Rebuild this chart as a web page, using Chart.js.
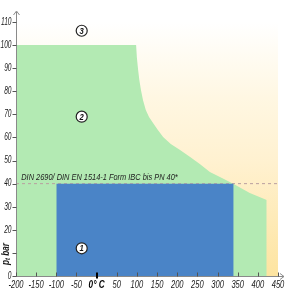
<!DOCTYPE html>
<html><head><meta charset="utf-8">
<script src="https://cdn.jsdelivr.net/npm/chart.js@4/dist/chart.umd.min.js"></script>
<style>html,body{margin:0;padding:0;background:#fff}#wrap{width:293px;height:300px}</style>
</head><body><div id="wrap"><canvas id="c" width="293" height="300"></canvas></div>
<script>
// ---- data ----
const xTickValues = [-200,-150,-100,-50,0,50,100,150,200,250,300,350,400,450];
const yTickValues = [0,10,20,30,40,50,60,70,80,90,100,110];
const tempMin = -200, tempMax = 450, pressMax = 110;
// region 3 (yellow background)
const yellowTemps = [-200, 450];
const yellowPress = [110, 110];
// region 2 (green)
const greenTemps = [-200,-200,98,100,103,106,110,115,122,130,140,152,165,184,207,232,256,281,311,340,380,422,422];
const greenPress = [0,100,100,94.4,89.2,84.9,80.6,76.2,71.9,68.9,66.3,63.2,60.2,57.2,54.6,51.5,48.5,45,42.4,39.8,35.9,32.9,0];
// region 1 (blue)
const blueTemps = [-100,-100,340,340];
const bluePress = [0,40,40,0];
// PN 40 dashed line
const pnTemps = [-200, 450];
const pnPress = [40, 40];
// region number markers
const markerTemps = [-37,-37,-37];
const markerPress = [12,69,106.2];
const markerLabels = ['1','2','3'];
const noteText = 'DIN 2690/ DIN EN 1514-1 Form IBC bis PN 40*';
const noteTemp = -187, notePress = 41.5;
const yTitle = ['p','t',' bar'];
const zeroLabel = '0° C';

const FAM = "'Liberation Sans',Arial,sans-serif";
const pts = (xs, ys) => xs.map((x,i)=>({x, y: ys[i]}));

function narrowText(ctx, text, x, y, align, baseline, font, color, sx) {
  ctx.save();
  ctx.translate(x, y);
  ctx.scale(sx, 1);
  ctx.font = font; ctx.fillStyle = color;
  ctx.textAlign = align; ctx.textBaseline = baseline;
  ctx.fillText(text, 0, 0);
  ctx.restore();
}

const overlay = {
  id: 'overlay',
  afterDatasetsDraw(chart) {
    const {ctx, scales: {x, y}} = chart;
    narrowText(ctx, noteText, x.getPixelForValue(noteTemp), y.getPixelForValue(notePress), 'left', 'alphabetic', `italic 9.5px ${FAM}`, '#222', 0.78);
    const meta = chart.getDatasetMeta(4);
    meta.data.forEach((p,i)=> narrowText(ctx, markerLabels[i], p.x, p.y+0.5, 'center', 'middle', `italic bold 9px ${FAM}`, '#111', 0.85));
  },
  afterDraw(chart) {
    const {ctx, chartArea: ca, scales: {x, y}} = chart;
    ctx.save();
    ctx.strokeStyle = '#8a8a8a';
    ctx.lineWidth = 1;
    const x0 = Math.round(ca.left)+0.5, y0 = Math.round(ca.bottom)+0.5;
    ctx.beginPath();
    ctx.moveTo(x0, y0); ctx.lineTo(x0, ca.top-10);
    ctx.moveTo(x0-3, ca.top-7); ctx.lineTo(x0, ca.top-11); ctx.lineTo(x0+3, ca.top-7);
    ctx.moveTo(x0, y0); ctx.lineTo(ca.right+6, y0);
    ctx.moveTo(ca.right+2, y0-3); ctx.lineTo(ca.right+6, y0); ctx.lineTo(ca.right+2, y0+3);
    ctx.stroke();
    ctx.strokeStyle = '#555';
    ctx.beginPath();
    yTickValues.forEach(v=>{ const py = Math.round(y.getPixelForValue(v))+0.5; ctx.moveTo(x0-4, py); ctx.lineTo(x0, py); });
    xTickValues.forEach(v=>{ if (v===0) return; const px = Math.round(x.getPixelForValue(v))+0.5; ctx.moveTo(px, y0-4); ctx.lineTo(px, y0); });
    ctx.stroke();
    ctx.strokeStyle = '#000'; ctx.lineWidth = 2;
    ctx.beginPath();
    const pz = Math.round(x.getPixelForValue(0));
    ctx.moveTo(pz, y0-4); ctx.lineTo(pz, y0+2);
    ctx.stroke();
    ctx.restore();
    // tick labels
    xTickValues.forEach(v=>{
      const bold = v===0;
      narrowText(ctx, bold ? zeroLabel : String(v), x.getPixelForValue(v), y0+9, 'center', 'middle',
        `italic ${bold?'bold ':''}10.5px ${FAM}`, bold ? '#000' : '#1a1a1a', bold ? 0.78 : 0.72);
    });
    yTickValues.forEach(v=>{
      if (v===10) return;
      narrowText(ctx, String(v), x0-5, y.getPixelForValue(v), 'right', 'middle', `italic 10px ${FAM}`, '#1a1a1a', 0.66);
    });
    // y title (rotated)
    ctx.save();
    ctx.translate(6, y.getPixelForValue(9.5));
    ctx.rotate(-Math.PI/2);
    ctx.scale(0.82, 1);
    ctx.fillStyle = '#1a1a1a';
    ctx.textBaseline = 'middle';
    ctx.textAlign = 'left';
    const f1 = `italic bold 10px ${FAM}`, f2 = `italic bold 7px ${FAM}`;
    ctx.font = f1; const w0 = ctx.measureText(yTitle[0]).width;
    ctx.font = f2; const w1 = ctx.measureText(yTitle[1]).width;
    ctx.font = f1; const w2 = ctx.measureText(yTitle[2]).width;
    const sx = -(w0+w1+w2)/2;
    ctx.font = f1; ctx.fillText(yTitle[0], sx, 0);
    ctx.font = f2; ctx.fillText(yTitle[1], sx+w0, 2.5);
    ctx.font = f1; ctx.fillText(yTitle[2], sx+w0+w1, 0);
    ctx.restore();
  }
};

const yellowGrad = (c) => {
  const ca = c.chart.chartArea;
  if (!ca) return '#fff3d0';
  const g = c.chart.ctx.createLinearGradient(0, ca.top, 0, ca.bottom);
  g.addColorStop(0, '#ffffff');
  g.addColorStop(0.3, '#fff7e2');
  g.addColorStop(0.55, '#fff1d0');
  g.addColorStop(1, '#fde4a0');
  return g;
};

new Chart(document.getElementById('c'), {
  type: 'scatter',
  data: { datasets: [
    { order: 5, data: pts(yellowTemps, yellowPress), showLine: true, fill: 'origin', backgroundColor: yellowGrad, borderWidth: 0, pointRadius: 0, tension: 0 },
    { order: 4, data: pts(greenTemps, greenPress), showLine: true, fill: 'origin', backgroundColor: '#b3eab3', borderWidth: 0, pointRadius: 0, tension: 0 },
    { order: 3, data: pts(pnTemps, pnPress), showLine: true, fill: false, borderColor: '#b9a0a0', borderWidth: 1, borderDash: [3,3], pointRadius: 0 },
    { order: 2, data: pts(blueTemps, bluePress), showLine: true, fill: 'origin', backgroundColor: '#4a84c7', borderWidth: 0, pointRadius: 0, tension: 0 },
    { order: 1, data: pts(markerTemps, markerPress), showLine: false, pointRadius: 5.5, pointBackgroundColor: '#fff', pointBorderColor: '#222', pointBorderWidth: 1.2, clip: false }
  ]},
  options: {
    responsive: false, animation: false, devicePixelRatio: 1,
    layout: { padding: { top: 22, right: 15, left: 0, bottom: 0 } },
    plugins: { legend: { display: false }, tooltip: { enabled: false } },
    scales: {
      x: {
        type: 'linear', min: tempMin, max: tempMax,
        afterFit: s => { s.height = 24; },
        grid: { display: false, drawTicks: false }, border: { display: false },
        ticks: { display: false }
      },
      y: {
        type: 'linear', min: 0, max: pressMax,
        afterFit: s => { s.width = 16; },
        grid: { display: false, drawTicks: false }, border: { display: false },
        ticks: { display: false }
      }
    }
  },
  plugins: [overlay]
});
</script>
</body></html>
